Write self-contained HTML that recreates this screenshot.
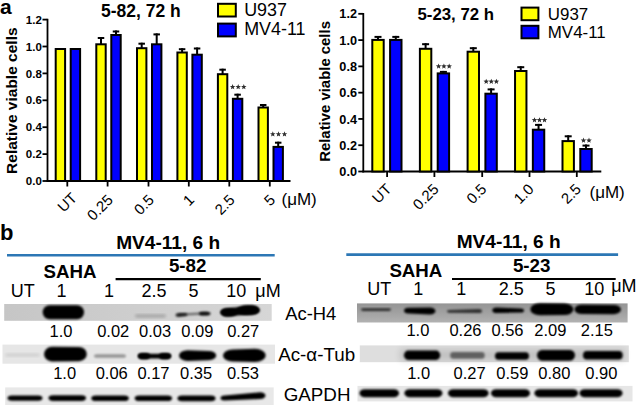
<!DOCTYPE html>
<html><head><meta charset="utf-8">
<style>
html,body{margin:0;padding:0;background:#fff;}
body{width:636px;height:405px;overflow:hidden;}
svg{display:block;font-family:"Liberation Sans",sans-serif;}
</style></head><body>
<svg width="636" height="405" viewBox="0 0 636 405">
<defs>
<filter id="bl" x="-20%" y="-50%" width="140%" height="200%"><feGaussianBlur stdDeviation="1.1"/></filter>
<filter id="soft" x="-5%" y="-20%" width="110%" height="140%"><feGaussianBlur stdDeviation="0.5"/></filter>
<filter id="bl2" x="-20%" y="-50%" width="140%" height="200%"><feGaussianBlur stdDeviation="1.8"/></filter>
<linearGradient id="g1" x1="0" x2="1" y1="0" y2="0"><stop offset="0" stop-color="#c6c6c6"/><stop offset="0.5" stop-color="#cecece"/><stop offset="1" stop-color="#d6d6d6"/></linearGradient>
<linearGradient id="g2" x1="0" x2="0" y1="0" y2="1"><stop offset="0" stop-color="#959595"/><stop offset="0.45" stop-color="#a0a0a0"/><stop offset="1" stop-color="#b2b2b2"/></linearGradient>
<filter id="halo" x="-30%" y="-100%" width="160%" height="300%"><feGaussianBlur stdDeviation="3"/></filter>
</defs>
<rect width="636" height="405" fill="#fff"/>

<text x="0" y="13.6" font-size="21" font-weight="bold">a</text>
<text x="0" y="240.2" font-size="22" font-weight="bold">b</text>
<line x1="47.5" y1="18.799999999999994" x2="47.5" y2="181.9" stroke="#000" stroke-width="1.8"/>
<line x1="46.6" y1="181.0" x2="290.5" y2="181.0" stroke="#000" stroke-width="1.8"/>
<line x1="42.5" y1="181.00" x2="47.5" y2="181.00" stroke="#000" stroke-width="1.8"/>
<text x="41.8" y="185.14" font-size="11.5" font-weight="bold" text-anchor="end">0.0</text>
<line x1="42.5" y1="154.10" x2="47.5" y2="154.10" stroke="#000" stroke-width="1.8"/>
<text x="41.8" y="158.24" font-size="11.5" font-weight="bold" text-anchor="end">0.2</text>
<line x1="42.5" y1="127.20" x2="47.5" y2="127.20" stroke="#000" stroke-width="1.8"/>
<text x="41.8" y="131.34" font-size="11.5" font-weight="bold" text-anchor="end">0.4</text>
<line x1="42.5" y1="100.30" x2="47.5" y2="100.30" stroke="#000" stroke-width="1.8"/>
<text x="41.8" y="104.44" font-size="11.5" font-weight="bold" text-anchor="end">0.6</text>
<line x1="42.5" y1="73.40" x2="47.5" y2="73.40" stroke="#000" stroke-width="1.8"/>
<text x="41.8" y="77.54" font-size="11.5" font-weight="bold" text-anchor="end">0.8</text>
<line x1="42.5" y1="46.50" x2="47.5" y2="46.50" stroke="#000" stroke-width="1.8"/>
<text x="41.8" y="50.64" font-size="11.5" font-weight="bold" text-anchor="end">1.0</text>
<line x1="42.5" y1="19.60" x2="47.5" y2="19.60" stroke="#000" stroke-width="1.8"/>
<text x="41.8" y="23.74" font-size="11.5" font-weight="bold" text-anchor="end">1.2</text>
<line x1="67.3" y1="181.0" x2="67.3" y2="186.5" stroke="#000" stroke-width="1.8"/>
<rect x="55.70" y="49.00" width="9.40" height="132.00" fill="#ffff00" stroke="#000" stroke-width="2.0"/>
<rect x="70.70" y="49.00" width="9.40" height="132.00" fill="#0000ff" stroke="#000" stroke-width="2.0"/>
<line x1="107.6" y1="181.0" x2="107.6" y2="186.5" stroke="#000" stroke-width="1.8"/>
<line x1="101.00" y1="37.00" x2="101.00" y2="44.30" stroke="#000" stroke-width="2"/>
<line x1="97.75" y1="38.00" x2="104.25" y2="38.00" stroke="#000" stroke-width="2"/>
<rect x="96.30" y="44.30" width="9.40" height="136.70" fill="#ffff00" stroke="#000" stroke-width="2.0"/>
<line x1="116.00" y1="30.50" x2="116.00" y2="35.00" stroke="#000" stroke-width="2"/>
<line x1="112.75" y1="31.50" x2="119.25" y2="31.50" stroke="#000" stroke-width="2"/>
<rect x="111.30" y="35.00" width="9.40" height="146.00" fill="#0000ff" stroke="#000" stroke-width="2.0"/>
<line x1="148.5" y1="181.0" x2="148.5" y2="186.5" stroke="#000" stroke-width="1.8"/>
<line x1="141.70" y1="42.70" x2="141.70" y2="48.20" stroke="#000" stroke-width="2"/>
<line x1="138.45" y1="43.70" x2="144.95" y2="43.70" stroke="#000" stroke-width="2"/>
<rect x="137.00" y="48.20" width="9.40" height="132.80" fill="#ffff00" stroke="#000" stroke-width="2.0"/>
<line x1="156.70" y1="33.40" x2="156.70" y2="44.30" stroke="#000" stroke-width="2"/>
<line x1="153.45" y1="34.40" x2="159.95" y2="34.40" stroke="#000" stroke-width="2"/>
<rect x="152.00" y="44.30" width="9.40" height="136.70" fill="#0000ff" stroke="#000" stroke-width="2.0"/>
<line x1="188.8" y1="181.0" x2="188.8" y2="186.5" stroke="#000" stroke-width="1.8"/>
<line x1="182.10" y1="48.20" x2="182.10" y2="52.50" stroke="#000" stroke-width="2"/>
<line x1="178.85" y1="49.20" x2="185.35" y2="49.20" stroke="#000" stroke-width="2"/>
<rect x="177.40" y="52.50" width="9.40" height="128.50" fill="#ffff00" stroke="#000" stroke-width="2.0"/>
<line x1="197.10" y1="47.50" x2="197.10" y2="54.70" stroke="#000" stroke-width="2"/>
<line x1="193.85" y1="48.50" x2="200.35" y2="48.50" stroke="#000" stroke-width="2"/>
<rect x="192.40" y="54.70" width="9.40" height="126.30" fill="#0000ff" stroke="#000" stroke-width="2.0"/>
<line x1="229.3" y1="181.0" x2="229.3" y2="186.5" stroke="#000" stroke-width="1.8"/>
<line x1="222.60" y1="68.70" x2="222.60" y2="74.20" stroke="#000" stroke-width="2"/>
<line x1="219.35" y1="69.70" x2="225.85" y2="69.70" stroke="#000" stroke-width="2"/>
<rect x="217.90" y="74.20" width="9.40" height="106.80" fill="#ffff00" stroke="#000" stroke-width="2.0"/>
<line x1="237.60" y1="93.70" x2="237.60" y2="98.80" stroke="#000" stroke-width="2"/>
<line x1="234.35" y1="94.70" x2="240.85" y2="94.70" stroke="#000" stroke-width="2"/>
<rect x="232.90" y="98.80" width="9.40" height="82.20" fill="#0000ff" stroke="#000" stroke-width="2.0"/>
<polygon points="232.60,84.00 233.33,85.89 235.36,86.00 233.79,87.29 234.30,89.25 232.60,88.15 230.90,89.25 231.41,87.29 229.84,86.00 231.87,85.89" fill="#2e2e2e"/>
<polygon points="238.20,84.00 238.93,85.89 240.96,86.00 239.39,87.29 239.90,89.25 238.20,88.15 236.50,89.25 237.01,87.29 235.44,86.00 237.47,85.89" fill="#2e2e2e"/>
<polygon points="243.80,84.00 244.53,85.89 246.56,86.00 244.99,87.29 245.50,89.25 243.80,88.15 242.10,89.25 242.61,87.29 241.04,86.00 243.07,85.89" fill="#2e2e2e"/>
<line x1="269.8" y1="181.0" x2="269.8" y2="186.5" stroke="#000" stroke-width="1.8"/>
<line x1="263.20" y1="104.00" x2="263.20" y2="107.50" stroke="#000" stroke-width="2"/>
<line x1="259.95" y1="105.00" x2="266.45" y2="105.00" stroke="#000" stroke-width="2"/>
<rect x="258.50" y="107.50" width="9.40" height="73.50" fill="#ffff00" stroke="#000" stroke-width="2.0"/>
<line x1="278.20" y1="141.70" x2="278.20" y2="146.90" stroke="#000" stroke-width="2"/>
<line x1="274.95" y1="142.70" x2="281.45" y2="142.70" stroke="#000" stroke-width="2"/>
<rect x="273.50" y="146.90" width="9.40" height="34.10" fill="#0000ff" stroke="#000" stroke-width="2.0"/>
<polygon points="272.80,131.30 273.53,133.19 275.56,133.30 273.99,134.59 274.50,136.55 272.80,135.45 271.10,136.55 271.61,134.59 270.04,133.30 272.07,133.19" fill="#2e2e2e"/>
<polygon points="278.50,131.30 279.23,133.19 281.26,133.30 279.69,134.59 280.20,136.55 278.50,135.45 276.80,136.55 277.31,134.59 275.74,133.30 277.77,133.19" fill="#2e2e2e"/>
<polygon points="284.50,131.30 285.23,133.19 287.26,133.30 285.69,134.59 286.20,136.55 284.50,135.45 282.80,136.55 283.31,134.59 281.74,133.30 283.77,133.19" fill="#2e2e2e"/>
<text transform="translate(16.7,173.9) rotate(-90)" font-size="15.5" font-weight="bold">Relative viable cells</text>
<text x="101.0" y="17.3" font-size="17.5" font-weight="bold">5-82, 72 h</text>
<rect x="218" y="3.8" width="17.8" height="12.7" fill="#ffff00" stroke="#000" stroke-width="2"/>
<rect x="218" y="23.6" width="17.8" height="12.8" fill="#0000ff" stroke="#000" stroke-width="2"/>
<text x="244.2" y="15.6" font-size="17.9">U937</text>
<text x="244.2" y="35.4" font-size="17.9">MV4-11</text>
<text transform="translate(77.90,198.90) rotate(-45)" font-size="15" text-anchor="end">UT</text>
<text transform="translate(114.00,200.90) rotate(-45)" font-size="15" text-anchor="end">0.25</text>
<text transform="translate(154.90,200.90) rotate(-45)" font-size="15" text-anchor="end">0.5</text>
<text transform="translate(195.20,200.90) rotate(-45)" font-size="15" text-anchor="end">1</text>
<text transform="translate(235.70,200.90) rotate(-45)" font-size="15" text-anchor="end">2.5</text>
<text transform="translate(276.20,200.90) rotate(-45)" font-size="15" text-anchor="end">5</text>
<text x="281.5" y="205.3" font-size="17">(μM)</text>
<line x1="363.3" y1="13.019999999999992" x2="363.3" y2="172.4" stroke="#000" stroke-width="1.8"/>
<line x1="362.40000000000003" y1="171.5" x2="601.3" y2="171.5" stroke="#000" stroke-width="1.8"/>
<line x1="358.3" y1="171.50" x2="363.3" y2="171.50" stroke="#000" stroke-width="1.8"/>
<text x="357.0" y="176.07" font-size="12.7" font-weight="bold" text-anchor="end">0.0</text>
<line x1="358.3" y1="145.22" x2="363.3" y2="145.22" stroke="#000" stroke-width="1.8"/>
<text x="357.0" y="149.79" font-size="12.7" font-weight="bold" text-anchor="end">0.2</text>
<line x1="358.3" y1="118.94" x2="363.3" y2="118.94" stroke="#000" stroke-width="1.8"/>
<text x="357.0" y="123.51" font-size="12.7" font-weight="bold" text-anchor="end">0.4</text>
<line x1="358.3" y1="92.66" x2="363.3" y2="92.66" stroke="#000" stroke-width="1.8"/>
<text x="357.0" y="97.23" font-size="12.7" font-weight="bold" text-anchor="end">0.6</text>
<line x1="358.3" y1="66.38" x2="363.3" y2="66.38" stroke="#000" stroke-width="1.8"/>
<text x="357.0" y="70.95" font-size="12.7" font-weight="bold" text-anchor="end">0.8</text>
<line x1="358.3" y1="40.10" x2="363.3" y2="40.10" stroke="#000" stroke-width="1.8"/>
<text x="357.0" y="44.67" font-size="12.7" font-weight="bold" text-anchor="end">1.0</text>
<line x1="358.3" y1="13.82" x2="363.3" y2="13.82" stroke="#000" stroke-width="1.8"/>
<text x="357.0" y="18.39" font-size="12.7" font-weight="bold" text-anchor="end">1.2</text>
<line x1="387.1" y1="171.5" x2="387.1" y2="177.0" stroke="#000" stroke-width="1.8"/>
<line x1="378.00" y1="35.90" x2="378.00" y2="39.90" stroke="#000" stroke-width="2"/>
<line x1="374.50" y1="36.90" x2="381.50" y2="36.90" stroke="#000" stroke-width="2"/>
<rect x="372.30" y="39.90" width="11.40" height="131.60" fill="#ffff00" stroke="#000" stroke-width="2.0"/>
<line x1="395.80" y1="35.90" x2="395.80" y2="39.90" stroke="#000" stroke-width="2"/>
<line x1="392.30" y1="36.90" x2="399.30" y2="36.90" stroke="#000" stroke-width="2"/>
<rect x="390.10" y="39.90" width="11.40" height="131.60" fill="#0000ff" stroke="#000" stroke-width="2.0"/>
<line x1="434.4" y1="171.5" x2="434.4" y2="177.0" stroke="#000" stroke-width="1.8"/>
<line x1="425.60" y1="43.20" x2="425.60" y2="48.80" stroke="#000" stroke-width="2"/>
<line x1="422.10" y1="44.20" x2="429.10" y2="44.20" stroke="#000" stroke-width="2"/>
<rect x="419.90" y="48.80" width="11.40" height="122.70" fill="#ffff00" stroke="#000" stroke-width="2.0"/>
<line x1="443.40" y1="70.90" x2="443.40" y2="73.40" stroke="#000" stroke-width="2"/>
<line x1="439.90" y1="71.90" x2="446.90" y2="71.90" stroke="#000" stroke-width="2"/>
<rect x="437.70" y="73.40" width="11.40" height="98.10" fill="#0000ff" stroke="#000" stroke-width="2.0"/>
<polygon points="438.60,63.40 439.33,65.29 441.36,65.40 439.79,66.69 440.30,68.65 438.60,67.55 436.90,68.65 437.41,66.69 435.84,65.40 437.87,65.29" fill="#2e2e2e"/>
<polygon points="443.90,63.40 444.63,65.29 446.66,65.40 445.09,66.69 445.60,68.65 443.90,67.55 442.20,68.65 442.71,66.69 441.14,65.40 443.17,65.29" fill="#2e2e2e"/>
<polygon points="449.20,63.40 449.93,65.29 451.96,65.40 450.39,66.69 450.90,68.65 449.20,67.55 447.50,68.65 448.01,66.69 446.44,65.40 448.47,65.29" fill="#2e2e2e"/>
<line x1="482.2" y1="171.5" x2="482.2" y2="177.0" stroke="#000" stroke-width="1.8"/>
<line x1="473.30" y1="47.20" x2="473.30" y2="51.70" stroke="#000" stroke-width="2"/>
<line x1="469.80" y1="48.20" x2="476.80" y2="48.20" stroke="#000" stroke-width="2"/>
<rect x="467.60" y="51.70" width="11.40" height="119.80" fill="#ffff00" stroke="#000" stroke-width="2.0"/>
<line x1="491.10" y1="88.40" x2="491.10" y2="93.70" stroke="#000" stroke-width="2"/>
<line x1="487.60" y1="89.40" x2="494.60" y2="89.40" stroke="#000" stroke-width="2"/>
<rect x="485.40" y="93.70" width="11.40" height="77.80" fill="#0000ff" stroke="#000" stroke-width="2.0"/>
<polygon points="486.20,78.70 486.93,80.59 488.96,80.70 487.39,81.99 487.90,83.95 486.20,82.85 484.50,83.95 485.01,81.99 483.44,80.70 485.47,80.59" fill="#2e2e2e"/>
<polygon points="491.30,78.70 492.03,80.59 494.06,80.70 492.49,81.99 493.00,83.95 491.30,82.85 489.60,83.95 490.11,81.99 488.54,80.70 490.57,80.59" fill="#2e2e2e"/>
<polygon points="496.40,78.70 497.13,80.59 499.16,80.70 497.59,81.99 498.10,83.95 496.40,82.85 494.70,83.95 495.21,81.99 493.64,80.70 495.67,80.59" fill="#2e2e2e"/>
<line x1="529.5" y1="171.5" x2="529.5" y2="177.0" stroke="#000" stroke-width="1.8"/>
<line x1="520.75" y1="66.20" x2="520.75" y2="71.00" stroke="#000" stroke-width="2"/>
<line x1="517.25" y1="67.20" x2="524.25" y2="67.20" stroke="#000" stroke-width="2"/>
<rect x="515.05" y="71.00" width="11.40" height="100.50" fill="#ffff00" stroke="#000" stroke-width="2.0"/>
<line x1="538.55" y1="123.90" x2="538.55" y2="129.70" stroke="#000" stroke-width="2"/>
<line x1="535.05" y1="124.90" x2="542.05" y2="124.90" stroke="#000" stroke-width="2"/>
<rect x="532.85" y="129.70" width="11.40" height="41.80" fill="#0000ff" stroke="#000" stroke-width="2.0"/>
<polygon points="534.50,117.20 535.23,119.09 537.26,119.20 535.69,120.49 536.20,122.45 534.50,121.35 532.80,122.45 533.31,120.49 531.74,119.20 533.77,119.09" fill="#2e2e2e"/>
<polygon points="539.50,117.20 540.23,119.09 542.26,119.20 540.69,120.49 541.20,122.45 539.50,121.35 537.80,122.45 538.31,120.49 536.74,119.20 538.77,119.09" fill="#2e2e2e"/>
<polygon points="544.50,117.20 545.23,119.09 547.26,119.20 545.69,120.49 546.20,122.45 544.50,121.35 542.80,122.45 543.31,120.49 541.74,119.20 543.77,119.09" fill="#2e2e2e"/>
<line x1="576.8" y1="171.5" x2="576.8" y2="177.0" stroke="#000" stroke-width="1.8"/>
<line x1="568.20" y1="135.30" x2="568.20" y2="141.10" stroke="#000" stroke-width="2"/>
<line x1="564.70" y1="136.30" x2="571.70" y2="136.30" stroke="#000" stroke-width="2"/>
<rect x="562.50" y="141.10" width="11.40" height="30.40" fill="#ffff00" stroke="#000" stroke-width="2.0"/>
<line x1="586.00" y1="144.60" x2="586.00" y2="149.00" stroke="#000" stroke-width="2"/>
<line x1="582.50" y1="145.60" x2="589.50" y2="145.60" stroke="#000" stroke-width="2"/>
<rect x="580.30" y="149.00" width="11.40" height="22.50" fill="#0000ff" stroke="#000" stroke-width="2.0"/>
<polygon points="583.50,137.60 584.23,139.49 586.26,139.60 584.69,140.89 585.20,142.85 583.50,141.75 581.80,142.85 582.31,140.89 580.74,139.60 582.77,139.49" fill="#2e2e2e"/>
<polygon points="589.00,137.60 589.73,139.49 591.76,139.60 590.19,140.89 590.70,142.85 589.00,141.75 587.30,142.85 587.81,140.89 586.24,139.60 588.27,139.49" fill="#2e2e2e"/>
<text transform="translate(330,161.8) rotate(-90)" font-size="14.9" font-weight="bold">Relative viable cells</text>
<text x="417.5" y="19.7" font-size="16.8" font-weight="bold">5-23, 72 h</text>
<rect x="521.5" y="7.6" width="16.9" height="12.6" fill="#ffff00" stroke="#000" stroke-width="2"/>
<rect x="521.5" y="25.8" width="16.9" height="12.5" fill="#0000ff" stroke="#000" stroke-width="2"/>
<text x="547.8" y="19.7" font-size="16.9">U937</text>
<text x="547.8" y="38" font-size="16.9">MV4-11</text>
<text transform="translate(392.50,190.10) rotate(-45)" font-size="15" text-anchor="end">UT</text>
<text transform="translate(439.60,190.10) rotate(-45)" font-size="15" text-anchor="end">0.25</text>
<text transform="translate(487.40,190.10) rotate(-45)" font-size="15" text-anchor="end">0.5</text>
<text transform="translate(534.70,190.10) rotate(-45)" font-size="15" text-anchor="end">1.0</text>
<text transform="translate(582.00,190.10) rotate(-45)" font-size="15" text-anchor="end">2.5</text>
<text x="589.5" y="198.2" font-size="17">(μM)</text>
<text x="116.2" y="249" font-size="19.1" font-weight="bold">MV4-11, 6 h</text>
<line x1="7" y1="255.3" x2="274.7" y2="255.3" stroke="#2c77b5" stroke-width="2.6"/>
<text x="43.6" y="277.9" font-size="18.7" font-weight="bold">SAHA</text>
<text x="168.9" y="272" font-size="18.8" font-weight="bold">5-82</text>
<line x1="115.6" y1="279.2" x2="260.8" y2="279.2" stroke="#000" stroke-width="2.2"/>
<text x="22.7" y="296.6" font-size="18" text-anchor="middle">UT</text>
<text x="61.6" y="296.6" font-size="18" text-anchor="middle">1</text>
<text x="109" y="296.6" font-size="18" text-anchor="middle">1</text>
<text x="154" y="296.6" font-size="18" text-anchor="middle">2.5</text>
<text x="193.6" y="296.6" font-size="18" text-anchor="middle">5</text>
<text x="236.3" y="296.6" font-size="18" text-anchor="middle">10</text>
<text x="255.3" y="296.6" font-size="18">μM</text>
<g filter="url(#soft)">
<rect x="4.2" y="304" width="267.5" height="16.8" fill="url(#g1)"/>
<rect x="2.5" y="344.6" width="272.5" height="19.1" fill="#e6e6e6"/>
<rect x="5.2" y="387.4" width="268.5" height="17.6" fill="#e8e8e8"/>
<rect x="357" y="303.4" width="270.6" height="19.1" fill="url(#g2)"/>
<rect x="359.8" y="345.4" width="269" height="16.8" fill="#dedede"/>
<rect x="357.5" y="385.9" width="275" height="15.5" fill="#e6e6e6"/>
</g>
<path d="M49.7,305.3 L77.0,305.3 A7.0,7.0 0 0 1 77.0,319.3 L49.7,319.3 A7.0,7.0 0 0 1 49.7,305.3 Z" fill="#000" opacity="1.0" filter="url(#bl)"/>
<path d="M137.2,314.6 L163.8,314.6 A2.2,1.4 0 0 1 163.8,317.4 L137.2,317.4 A2.2,1.4 0 0 1 137.2,314.6 Z" fill="#000" opacity="0.22" filter="url(#bl2)"/>
<path d="M179.9,313.4 L206.1,312.2 A1.9,1.2 0 0 1 206.1,314.6 L179.9,315.8 A1.9,1.2 0 0 1 179.9,313.4 Z" fill="#000" opacity="0.5" filter="url(#bl)"/>
<path d="M178.7,313.0 L184.9,313.0 A2.6,1.6 0 0 1 184.9,316.2 L178.7,317.0 A3.2,2.0 0 0 1 178.7,313.0 Z" fill="#000" opacity="0.75" filter="url(#bl)"/>
<path d="M202.0,311.7 L207.5,311.7 A3.0,1.9 0 0 1 207.5,315.5 L202.0,315.5 A3.0,1.9 0 0 1 202.0,311.7 Z" fill="#000" opacity="0.9" filter="url(#bl)"/>
<path d="M226.9,308.3 L252.6,305.7 A6.9,4.3 0 0 1 252.6,314.3 L226.9,316.3 A6.4,4.0 0 0 1 226.9,308.3 Z" fill="#000" opacity="1.0" filter="url(#bl)"/>
<ellipse cx="248" cy="310.2" rx="11.5" ry="4.9" fill="#000" filter="url(#bl)"/>
<ellipse cx="229" cy="312.4" rx="8.5" ry="4.0" fill="#000" filter="url(#bl)"/>
<path d="M7.4,353.5 L37.6,353.5 A2.4,1.5 0 0 1 37.6,356.5 L7.4,356.5 A2.4,1.5 0 0 1 7.4,353.5 Z" fill="#000" opacity="0.1" filter="url(#bl2)"/>
<path d="M52.0,346.8 L79.0,347.0 A7.8,7.1 0 0 1 79.0,361.2 L52.0,361.4 A8.0,7.3 0 0 1 52.0,346.8 Z" fill="#000" opacity="1.0" filter="url(#bl)"/>
<path d="M96.9,354.2 L123.1,354.2 A2.9,1.8 0 0 1 123.1,357.8 L96.9,357.8 A2.9,1.8 0 0 1 96.9,354.2 Z" fill="#000" opacity="0.35" filter="url(#bl)"/>
<path d="M141.8,353.7 L167.2,353.7 A3.8,2.4 0 0 1 167.2,358.5 L141.8,358.5 A3.8,2.4 0 0 1 141.8,353.7 Z" fill="#000" opacity="1.0" filter="url(#bl)"/>
<path d="M142.0,353.0 L146.0,353.0 A4.0,3.1 0 0 1 146.0,359.2 L142.0,359.2 A4.0,3.1 0 0 1 142.0,353.0 Z" fill="#000" opacity="1.0" filter="url(#bl)"/>
<path d="M163.0,353.0 L167.0,353.0 A4.0,3.1 0 0 1 167.0,359.2 L163.0,359.2 A4.0,3.1 0 0 1 163.0,353.0 Z" fill="#000" opacity="1.0" filter="url(#bl)"/>
<path d="M187.5,350.3 L208.8,351.0 A7.4,4.6 0 0 1 208.8,360.2 L187.5,360.9 A8.5,5.3 0 0 1 187.5,350.3 Z" fill="#000" opacity="1.0" filter="url(#bl)"/>
<path d="M232.6,349.6 L255.1,348.8 A10.6,6.6 0 0 1 255.1,362.0 L232.6,361.6 A9.6,6.0 0 0 1 232.6,349.6 Z" fill="#000" opacity="1.0" filter="url(#bl)"/>
<path d="M11.8,395.4 L38.2,395.4 A4.3,2.7 0 0 1 38.2,400.8 L11.8,400.8 A4.3,2.7 0 0 1 11.8,395.4 Z" fill="#000" opacity="1.0" filter="url(#bl)"/>
<path d="M53.0,395.3 L81.5,395.3 A4.5,2.8 0 0 1 81.5,400.9 L53.0,400.9 A4.5,2.8 0 0 1 53.0,395.3 Z" fill="#000" opacity="1.0" filter="url(#bl)"/>
<path d="M95.8,395.4 L124.3,395.4 A4.5,2.8 0 0 1 124.3,401.0 L95.8,401.0 A4.5,2.8 0 0 1 95.8,395.4 Z" fill="#000" opacity="1.0" filter="url(#bl)"/>
<path d="M139.2,395.5 L167.5,395.5 A4.5,2.8 0 0 1 167.5,401.1 L139.2,401.1 A4.5,2.8 0 0 1 139.2,395.5 Z" fill="#000" opacity="1.0" filter="url(#bl)"/>
<path d="M182.1,395.4 L210.9,395.4 A4.6,2.9 0 0 1 210.9,401.2 L182.1,401.2 A4.6,2.9 0 0 1 182.1,395.4 Z" fill="#000" opacity="1.0" filter="url(#bl)"/>
<path d="M224.5,395.6 L260.2,392.3 A5.3,3.3 0 0 1 260.2,398.9 L224.5,400.6 A4.0,2.5 0 0 1 224.5,395.6 Z" fill="#000" opacity="1.0" filter="url(#bl)"/>
<path d="M363.1,308.3 L388.9,308.3 A2.1,1.3 0 0 1 388.9,310.9 L363.1,310.9 A2.1,1.3 0 0 1 363.1,308.3 Z" fill="#000" opacity="0.7" filter="url(#bl)"/>
<path d="M408.6,307.7 L429.9,307.5 A5.6,3.5 0 0 1 429.9,314.5 L408.6,313.5 A4.6,2.9 0 0 1 408.6,307.7 Z" fill="#000" opacity="1.0" filter="url(#bl)"/>
<path d="M449.2,309.9 L478.8,309.0 A3.2,2.0 0 0 1 478.8,313.0 L449.2,312.7 A2.2,1.4 0 0 1 449.2,309.9 Z" fill="#000" opacity="0.7" filter="url(#bl)"/>
<path d="M496.8,307.4 L520.8,308.5 A3.2,2.0 0 0 1 520.8,312.5 L496.8,313.0 A4.5,2.8 0 0 1 496.8,307.4 Z" fill="#000" opacity="1.0" filter="url(#bl)"/>
<path d="M539.9,303.3 L564.2,303.5 A9.3,5.8 0 0 1 564.2,315.1 L539.9,315.3 A9.6,6.0 0 0 1 539.9,303.3 Z" fill="#000" opacity="1.0" filter="url(#bl)"/>
<path d="M582.0,304.7 L613.6,305.0 A7.4,4.6 0 0 1 613.6,314.2 L582.0,314.1 A7.5,4.7 0 0 1 582.0,304.7 Z" fill="#000" opacity="1.0" filter="url(#bl)"/>
<rect x="400" y="349" width="225" height="12" fill="#000" opacity="0.12" filter="url(#halo)"/>
<path d="M408.2,350.6 L436.0,350.6 A4.2,4.7 0 0 1 436.0,360.0 L408.2,360.0 A4.2,4.7 0 0 1 408.2,350.6 Z" fill="#000" opacity="1.0" filter="url(#bl)"/>
<path d="M453.2,352.1 L481.7,352.1 A3.0,3.3 0 0 1 481.7,358.7 L453.2,358.7 A3.0,3.3 0 0 1 453.2,352.1 Z" fill="#000" opacity="0.5" filter="url(#bl)"/>
<path d="M498.4,352.2 L525.6,352.2 A3.4,3.8 0 0 1 525.6,359.8 L498.4,359.8 A3.4,3.8 0 0 1 498.4,352.2 Z" fill="#000" opacity="1.0" filter="url(#bl)"/>
<path d="M541.9,349.9 L570.1,349.9 A4.9,5.4 0 0 1 570.1,360.7 L541.9,360.7 A4.9,5.4 0 0 1 541.9,349.9 Z" fill="#000" opacity="1.0" filter="url(#bl)"/>
<path d="M586.9,351.0 L618.8,351.0 A3.9,4.3 0 0 1 618.8,359.6 L586.9,359.6 A3.9,4.3 0 0 1 586.9,351.0 Z" fill="#000" opacity="1.0" filter="url(#bl)"/>
<path d="M364.7,389.2 L393.8,389.2 A5.2,4.0 0 0 1 393.8,397.2 L364.7,397.2 A5.2,4.0 0 0 1 364.7,389.2 Z" fill="#000" opacity="1.0" filter="url(#bl)"/>
<path d="M409.6,389.2 L437.2,389.2 A5.2,4.0 0 0 1 437.2,397.2 L409.6,397.2 A5.2,4.0 0 0 1 409.6,389.2 Z" fill="#000" opacity="1.0" filter="url(#bl)"/>
<path d="M453.2,389.2 L483.4,389.2 A5.2,4.0 0 0 1 483.4,397.2 L453.2,397.2 A5.2,4.0 0 0 1 453.2,389.2 Z" fill="#000" opacity="1.0" filter="url(#bl)"/>
<path d="M496.2,389.2 L524.8,389.2 A5.2,4.0 0 0 1 524.8,397.2 L496.2,397.2 A5.2,4.0 0 0 1 496.2,389.2 Z" fill="#000" opacity="1.0" filter="url(#bl)"/>
<path d="M539.6,389.2 L572.8,389.2 A5.2,4.0 0 0 1 572.8,397.2 L539.6,397.2 A5.2,4.0 0 0 1 539.6,389.2 Z" fill="#000" opacity="1.0" filter="url(#bl)"/>
<path d="M584.7,389.2 L617.3,389.2 A5.2,4.0 0 0 1 617.3,397.2 L584.7,397.2 A5.2,4.0 0 0 1 584.7,389.2 Z" fill="#000" opacity="1.0" filter="url(#bl)"/>
<text x="61" y="336.8" font-size="16.5" text-anchor="middle">1.0</text>
<text x="113.25" y="336.8" font-size="16.5" text-anchor="middle">0.02</text>
<text x="155.15" y="336.8" font-size="16.5" text-anchor="middle">0.03</text>
<text x="197.3" y="336.8" font-size="16.5" text-anchor="middle">0.09</text>
<text x="243.25" y="336.8" font-size="16.5" text-anchor="middle">0.27</text>
<text x="64.6" y="379.2" font-size="16.5" text-anchor="middle">1.0</text>
<text x="111.75" y="379.2" font-size="16.5" text-anchor="middle">0.06</text>
<text x="153.45" y="379.2" font-size="16.5" text-anchor="middle">0.17</text>
<text x="196.15" y="379.2" font-size="16.5" text-anchor="middle">0.35</text>
<text x="242.95" y="379.2" font-size="16.5" text-anchor="middle">0.53</text>
<text x="285.2" y="320.0" font-size="18.4">Ac-H4</text>
<text x="278.2" y="361" font-size="18.8">Ac-α-Tub</text>
<text x="283.7" y="400.6" font-size="18.8">GAPDH</text>
<text x="456.7" y="248.3" font-size="19.1" font-weight="bold">MV4-11, 6 h</text>
<line x1="346.3" y1="254.6" x2="618.1" y2="254.6" stroke="#2c77b5" stroke-width="2.6"/>
<text x="389.4" y="277.4" font-size="18.7" font-weight="bold">SAHA</text>
<text x="512.9" y="271.6" font-size="18.8" font-weight="bold">5-23</text>
<line x1="452" y1="279" x2="615.7" y2="279" stroke="#000" stroke-width="2.2"/>
<text x="379.25" y="295.4" font-size="18" text-anchor="middle">UT</text>
<text x="418.25" y="295.4" font-size="18" text-anchor="middle">1</text>
<text x="461.35" y="295.4" font-size="18" text-anchor="middle">1</text>
<text x="511.2" y="295.4" font-size="18" text-anchor="middle">2.5</text>
<text x="550.6" y="295.4" font-size="18" text-anchor="middle">5</text>
<text x="594.3" y="295.4" font-size="18" text-anchor="middle">10</text>
<text x="611.2" y="292.4" font-size="18">μM</text>
<text x="417.9" y="335.9" font-size="16.5" text-anchor="middle">1.0</text>
<text x="465.5" y="335.9" font-size="16.5" text-anchor="middle">0.26</text>
<text x="507.45" y="335.9" font-size="16.5" text-anchor="middle">0.56</text>
<text x="550.4" y="335.9" font-size="16.5" text-anchor="middle">2.09</text>
<text x="596.9" y="335.9" font-size="16.5" text-anchor="middle">2.15</text>
<text x="418.6" y="379.2" font-size="16.5" text-anchor="middle">1.0</text>
<text x="469.55" y="379.2" font-size="16.5" text-anchor="middle">0.27</text>
<text x="512.35" y="379.2" font-size="16.5" text-anchor="middle">0.59</text>
<text x="554.3" y="379.2" font-size="16.5" text-anchor="middle">0.80</text>
<text x="601.4" y="379.2" font-size="16.5" text-anchor="middle">0.90</text>
</svg></body></html>
